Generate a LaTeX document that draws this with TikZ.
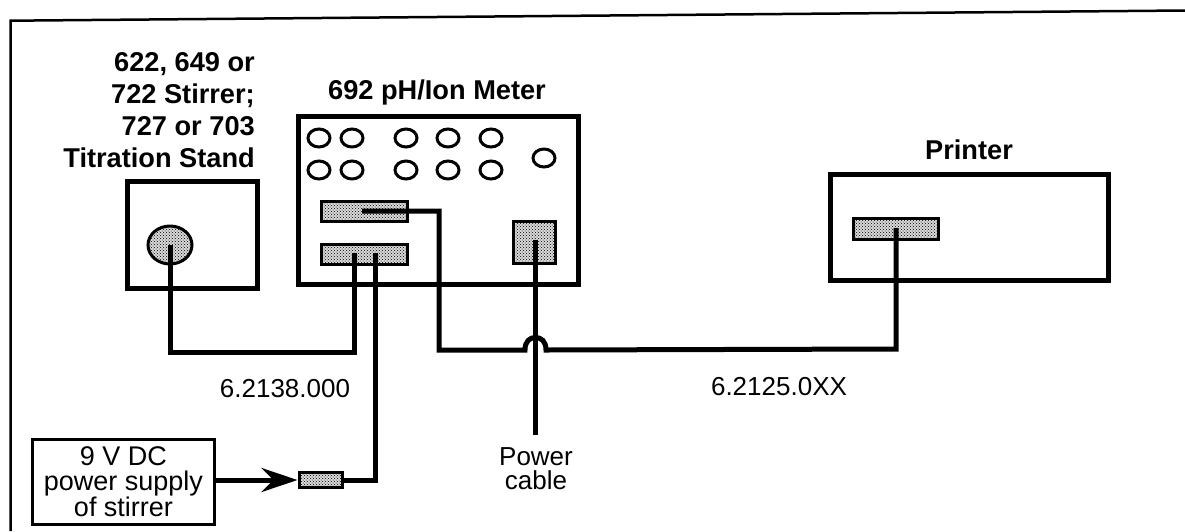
\documentclass[tikz,border=0pt]{standalone}
\usepackage{fontspec}
\setmainfont{Liberation Sans}
\usetikzlibrary{shapes.geometric,patterns,arrows.meta}

\begin{document}
\begin{tikzpicture}[x=1pt,y=-1pt]
	\tikzstyle{every node}=[inner sep=0pt,font=\fontsize{26}{24}\selectfont]
	\tikzstyle{unitbox}=[draw,line width=5pt,inner sep=0pt,anchor=north west]
	\tikzstyle{title}=[font=\fontsize{27.2}{32}\bfseries\selectfont,align=right]
	\tikzstyle{port}=[draw,line width=3pt,preaction={fill=black!15},pattern=crosshatch dots,pattern color=black,anchor=north west]
	\tikzstyle{knob}=[draw,ellipse,line width=3pt,minimum width=22pt,minimum height=18pt]
	\tikzstyle{cable}=[line width=5pt,line cap=butt,line join=miter]
	\useasboundingbox (0,0) rectangle (1185,531);
	\draw[line width=2.5pt] (10.5,531) -- (10.5,20.7) -- (1185,10.5);

	% units
	\node[unitbox,minimum width=130pt,minimum height=107pt] (stirrer) at (124.5,179) {};
	\node[unitbox,minimum width=280pt,minimum height=168pt] (meter) at (296,114) {};
	\node[unitbox,minimum width=278pt,minimum height=106pt] (printer) at (828,172) {};
	\node[draw,line width=3pt,anchor=north west,minimum width=182pt,minimum height=85pt,align=center,font=\fontsize{27}{24.5}\selectfont] (supply) at (31,438) {9 V DC\\power supply\\of stirrer};

	% titles
	\node[title,anchor=east] (stirrertitle) at (255,110) {622, 649 or\\722 Stirrer;\\727 or 703\\Titration Stand};
	\node[title] (metertitle) at (437,92) {692 pH/Ion Meter};
	\node[title] (printertitle) at (969,150) {Printer};

	% knobs on the meter
	\foreach \xpos/\ypos [count=\i] in {319/138,352/138,406/138,448/138,491/138,319/170,352/170,406/170,448/170,491/170,544/158}
		\node[knob] (knob\i) at (\xpos,\ypos) {};

	% ports
	\node[draw,ellipse,line width=3pt,preaction={fill=black!15},pattern=crosshatch dots,pattern color=black,minimum width=44pt,minimum height=38pt] (stirrerport) at (170,245) {};
	\node[port,minimum width=85.5pt,minimum height=20pt] (printout) at (320,200) {};
	\node[port,minimum width=85.5pt,minimum height=20pt] (stirout) at (320,243) {};
	\node[port,minimum width=42pt,minimum height=42pt] (mains) at (512,220) {};
	\node[port,minimum width=84.5pt,minimum height=21pt] (printin) at (852,217) {};
	\node[port,minimum width=43pt,minimum height=15pt] (plug) at (297.5,471) {};

	% cable ends
	\coordinate (a1) at (170,352);
	\coordinate (a2) at (354,352);
	\coordinate (a3) at (354,253);
	\coordinate (b1) at (375,253);
	\coordinate (b2) at (375,480);
	\coordinate (c1) at (362,211);
	\coordinate (c2) at (439,211);
	\coordinate (c3) at (439,350);
	\coordinate (c4) at (525,350);
	\coordinate (c5) at (546,350);
	\coordinate (c6) at (896,349);
	\coordinate (c7) at (896,228);
	\coordinate (d1) at (535.7,240);
	\coordinate (d2) at (535.7,435);

	% cables
	\draw[cable] (stirrerport.center) -- (a1) -- (a2) -- (a3);
	\draw[cable] (b1) -- (b2) -- (plug.east);
	\draw[cable] (c1) -- (c2) -- (c3) -- (c4) .. controls (525,341) and (530,337.5) .. (535.5,337.5) .. controls (541,337.5) and (546,341) .. (c5) -- (c6) -- (c7);
	\draw[cable] (d1) -- (d2);
	\draw[cable,-{Stealth[length=36pt,width=24pt,inset=12pt]}] (supply.east |- plug.west) -- (plug.west);

	% part numbers
	\node (cableone) at (285,389) {6.2138.000};
	\node (cabletwo) at (779,387) {6.2125.0XX};
	\node[align=center] (powerlabel) at (536,469) {Power\\cable};
\end{tikzpicture}
\end{document}
